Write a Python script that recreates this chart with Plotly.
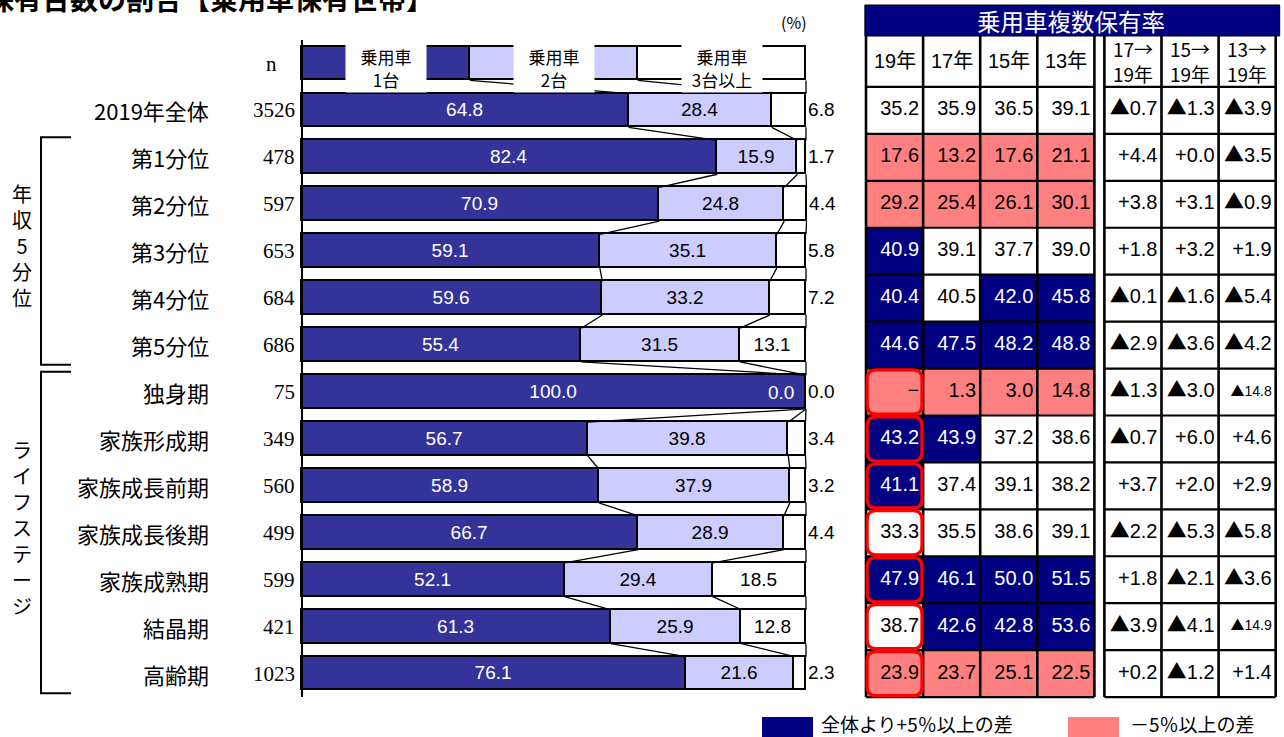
import plotly.graph_objects as go

# ---------------- data ----------------
categories = ["2019年全体", "第1分位", "第2分位", "第3分位", "第4分位", "第5分位",
              "独身期", "家族形成期", "家族成長前期", "家族成長後期", "家族成熟期", "結晶期", "高齢期"]
n_values = [3526, 478, 597, 653, 684, 686, 75, 349, 560, 499, 599, 421, 1023]
share_1 = [64.8, 82.4, 70.9, 59.1, 59.6, 55.4, 100.0, 56.7, 58.9, 66.7, 52.1, 61.3, 76.1]
share_2 = [28.4, 15.9, 24.8, 35.1, 33.2, 31.5, 0.0, 39.8, 37.9, 28.9, 29.4, 25.9, 21.6]
share_3 = [6.8, 1.7, 4.4, 5.8, 7.2, 13.1, 0.0, 3.4, 3.2, 4.4, 18.5, 12.8, 2.3]
series_names = ["乗用車<br>1台", "乗用車<br>2台", "乗用車<br>3台以上"]
key_share = [33.3, 33.3, 33.4]          # header key bar

income_group = categories[1:6]
life_group = categories[6:]

rate_years = ["19年", "17年", "15年", "13年"]
rate_19 = [35.2, 17.6, 29.2, 40.9, 40.4, 44.6, None, 43.2, 41.1, 33.3, 47.9, 38.7, 23.9]
rate_17 = [35.9, 13.2, 25.4, 39.1, 40.5, 47.5, 1.3, 43.9, 37.4, 35.5, 46.1, 42.6, 23.7]
rate_15 = [36.5, 17.6, 26.1, 37.7, 42.0, 48.2, 3.0, 37.2, 39.1, 38.6, 50.0, 42.8, 25.1]
rate_13 = [39.1, 21.1, 30.1, 39.0, 45.8, 48.8, 14.8, 38.6, 38.2, 39.1, 51.5, 53.6, 22.5]

change_labels = ["17→<br>19年", "15→<br>19年", "13→<br>19年"]
chg_17 = [-0.7, 4.4, 3.8, 1.8, -0.1, -2.9, -1.3, -0.7, 3.7, -2.2, 1.8, -3.9, 0.2]
chg_15 = [-1.3, 0.0, 3.1, 3.2, -1.6, -3.6, -3.0, 6.0, 2.0, -5.3, -2.1, -4.1, -1.2]
chg_13 = [-3.9, -3.5, -0.9, 1.9, -5.4, -4.2, -14.8, 4.6, 2.9, -5.8, -3.6, -14.9, 1.4]

table_title = "乗用車複数保有率"
legend_hi = "全体より+5％以上の差"
legend_lo = "－5％以上の差"
page_title = "乗用車保有台数の割合【乗用車保有世帯】"

# ---------------- style / geometry ----------------
W, H = 1284, 737
X0_PX, X100_PX = 302, 806
ROW0_PX, PITCH = 63.5, 46.93
T_LEFT_PX, COLW_PX = 866, 57.1
GAP = 0.175
BAR_W = 0.72

NAVY_BAR = "#333399"
LAV = "#CCCCFF"
NAVY = "#000080"
PINK = "#FF8080"
NUM = "Liberation Sans, Arial, Noto Sans CJK JP, sans-serif"
JP = "Noto Sans CJK JP, sans-serif"
SERIF = "Liberation Serif, DejaVu Serif, serif"

sc = (X100_PX - X0_PX) / 100.0
x_range = [(0 - X0_PX) / sc, (W - X0_PX) / sc]
y_range = [(H - ROW0_PX) / PITCH, (0 - ROW0_PX) / PITCH]
x2_range = [(0 - T_LEFT_PX) / COLW_PX, (W - T_LEFT_PX) / COLW_PX]


def py(px):
    return (px - ROW0_PX) / PITCH


rows = list(range(1, len(categories) + 1))
all_rows = [0] + rows

fig = go.Figure()

# ---------------- stacked bars ----------------
s1 = [key_share[0]] + share_1
s2 = [key_share[1]] + share_2
s3 = [key_share[2]] + share_3

t1 = [""] + [f"{v:.1f}" for v in share_1]
t2 = [""] + [f"{v:.1f}" if v > 0 else "" for v in share_2]
t3 = [""] + [f"{v:.1f}" for v in share_3]
pos3 = ["inside"] + ["inside" if v >= 10 else "outside" for v in share_3]

for vals, txt, col, tcol, pos in [
    (s1, t1, NAVY_BAR, "white", "inside"),
    (s2, t2, LAV, "black", "inside"),
    (s3, t3, "white", "black", pos3),
]:
    fig.add_trace(go.Bar(
        x=vals, y=all_rows, orientation="h", width=BAR_W,
        marker=dict(color=col, line=dict(color="black", width=1.8)),
        text=txt, textposition=pos, insidetextanchor="middle",
        textfont=dict(family=NUM, size=19, color=tcol),
        outsidetextfont=dict(family=NUM, size=19, color="black"),
        constraintext="none", cliponaxis=False, showlegend=False,
        hoverinfo="skip",
    ))

# series lines between consecutive bars
cx, cy = [], []
c1 = s1
c2 = [a + b for a, b in zip(s1, s2)]
c3 = [a + b + c for a, b, c in zip(s1, s2, s3)]
for cum in (c1, c2, c3):
    for i in range(len(all_rows) - 1):
        cx += [cum[i], cum[i + 1], None]
        cy += [all_rows[i] + BAR_W / 2, all_rows[i + 1] - BAR_W / 2, None]
fig.add_trace(go.Scatter(x=cx, y=cy, mode="lines", line=dict(color="black", width=1.3),
                         showlegend=False, hoverinfo="skip"))
# category axis line
fig.add_trace(go.Scatter(x=[0, 0], y=[-0.5, len(categories) + 0.5], mode="lines",
                         line=dict(color="black", width=2), showlegend=False, hoverinfo="skip"))

# ---------------- table 1 (rates) ----------------
PAD = 4 / COLW_PX
rate_cols = [rate_19, rate_17, rate_15, rate_13]
z, txt_w_x, txt_w_y, txt_w, txt_b_x, txt_b_y, txt_b = [], [], [], [], [], [], []
for r, k in enumerate(rows):
    zrow = []
    for j, col in enumerate(rate_cols):
        v = col[r]
        base = col[0]
        vv = 0.0 if v is None else v
        d = vv - base
        state = 1 if d >= 5 - 1e-9 else (2 if d <= -5 + 1e-9 else 0)
        zrow.append(state)
        s = "−" if v is None else f"{v:.1f}"
        if state == 1:
            txt_w_x.append(j + 1 - PAD); txt_w_y.append(k); txt_w.append(s)
        else:
            txt_b_x.append(j + 1 - PAD); txt_b_y.append(k); txt_b.append(s)
    z.append(zrow)

fig.add_trace(go.Heatmap(
    z=z, x=[j + 0.5 for j in range(4)], y=rows, xaxis="x2", yaxis="y",
    zmin=0, zmax=2, showscale=False, hoverinfo="skip",
    colorscale=[[0, "white"], [0.33, "white"], [0.33, NAVY], [0.67, NAVY],
                [0.67, PINK], [1, PINK]],
))
for xs, ys, ts, c in [(txt_w_x, txt_w_y, txt_w, "white"), (txt_b_x, txt_b_y, txt_b, "black")]:
    fig.add_trace(go.Scatter(x=xs, y=ys, text=ts, mode="text", textposition="middle left",
                             xaxis="x2", yaxis="y",
                             textfont=dict(family=NUM, size=20, color=c),
                             showlegend=False, hoverinfo="skip", cliponaxis=False))

# ---------------- table 2 (changes) ----------------
TRI = '<span style="font-family:Noto Sans CJK JP">▲</span>'


def fmt_chg(v):
    s = f"{abs(v):.1f}"
    return (TRI + s) if v < 0 else ("+" + s)


cx2, cy2, ct2, cs2 = [], [], [], []
for j, col in enumerate([chg_17, chg_15, chg_13]):
    for r, k in enumerate(rows):
        cx2.append(4 + GAP + j + 1 - PAD)
        cy2.append(k)
        ct2.append(fmt_chg(col[r]))
        cs2.append(14 if abs(col[r]) >= 10 else 20)
fig.add_trace(go.Scatter(x=cx2, y=cy2, text=ct2, mode="text", textposition="middle left",
                         xaxis="x2", yaxis="y",
                         textfont=dict(family=NUM, size=cs2, color="black"),
                         showlegend=False, hoverinfo="skip", cliponaxis=False))

# ---------------- shapes ----------------
shapes = []
head_top = py(36)
last = len(categories) + 0.5
t2_left = 4 + GAP
t2_right = t2_left + 3

# title bar
shapes.append(dict(type="rect", xref="x2", yref="y", x0=-0.02, x1=t2_right + 0.07,
                   y0=py(5), y1=head_top, fillcolor=NAVY, line=dict(color="black", width=1), layer="above"))
# grid lines
for left, ncol in [(0, 4), (t2_left, 3)]:
    for j in range(ncol + 1):
        shapes.append(dict(type="line", xref="x2", yref="y", x0=left + j, x1=left + j,
                           y0=head_top, y1=last, line=dict(color="black", width=2.6), layer="above"))
    for k in [0] + rows:
        shapes.append(dict(type="line", xref="x2", yref="y", x0=left, x1=left + ncol,
                           y0=k + 0.5, y1=k + 0.5, line=dict(color="black", width=2.2), layer="above"))


# red highlight boxes (life stage rows, 19年 column)
def rrect(x0, x1, y0, y1, rx, ry):
    return (f"M {x0+rx},{y0} L {x1-rx},{y0} Q {x1},{y0} {x1},{y0+ry} L {x1},{y1-ry} "
            f"Q {x1},{y1} {x1-rx},{y1} L {x0+rx},{y1} Q {x0},{y1} {x0},{y1-ry} "
            f"L {x0},{y0+ry} Q {x0},{y0} {x0+rx},{y0} Z")


rx, ry = 9 / COLW_PX, 9 / PITCH
for name in life_group:
    k = categories.index(name) + 1
    shapes.append(dict(type="path", xref="x2", yref="y",
                       path=rrect(0.02, 0.98, k - 0.47, k + 0.47, rx, ry),
                       line=dict(color="#FF0000", width=3.2), layer="above"))

# group brackets
for grp in (income_group, life_group):
    k0 = categories.index(grp[0]) + 1 - 0.43
    k1 = categories.index(grp[-1]) + 1 + 0.42
    xa, xb = 41 / W, 71 / W
    shapes.append(dict(type="path", xref="paper", yref="y",
                       path=f"M {xb},{k0} L {xa},{k0} L {xa},{k1} L {xb},{k1}",
                       line=dict(color="black", width=2)))

# bottom legend swatches
shapes.append(dict(type="rect", xref="paper", yref="paper", x0=762 / W, x1=813 / W,
                   y0=0, y1=20 / H, fillcolor=NAVY, line=dict(width=0)))
shapes.append(dict(type="rect", xref="paper", yref="paper", x0=1068 / W, x1=1119 / W,
                   y0=0, y1=20 / H, fillcolor=PINK, line=dict(width=0)))

# ---------------- annotations ----------------
ann = []
for name, n in zip(categories, n_values):
    k = categories.index(name) + 1
    ann.append(dict(x=211 / W, xref="paper", y=k, yref="y", text=name, showarrow=False,
                    xanchor="right", yanchor="middle", font=dict(family=JP, size=22, color="black")))
    ann.append(dict(x=297 / W, xref="paper", y=k, yref="y", text=str(n), showarrow=False,
                    xanchor="right", yanchor="middle", font=dict(family=SERIF, size=21, color="black")))
ann.append(dict(x=271 / W, xref="paper", y=0, yref="y", text="n", showarrow=False,
                xanchor="center", yanchor="middle", font=dict(family=SERIF, size=21, color="black")))
# key labels
acc = 0
for name, v in zip(series_names, key_share):
    ann.append(dict(x=acc + v / 2, xref="x", y=0, yref="y", yshift=-4, text=name, showarrow=False,
                    xanchor="center", yanchor="middle",
                    bgcolor="white", width=78, height=46,
                    font=dict(family=JP, size=17, color="black")))
    acc += v
# zero label for 2台 of 独身期
for name, v1, v2 in zip(categories, share_1, share_2):
    if v2 == 0:
        k = categories.index(name) + 1
        ann.append(dict(x=v1 + v2, xref="x", y=k, yref="y", xanchor="right", yanchor="middle", xshift=-10,
                        text=f"{v2:.1f}", showarrow=False,
                        font=dict(family=NUM, size=19, color="white")))
ann.append(dict(x=100, xref="x", y=py(22), yref="y", xanchor="right", yanchor="middle", xshift=3, text="(%)",
                showarrow=False, font=dict(family=JP, size=16, color="black")))
# bracket group labels
for grp, lab in [(income_group, "年<br>収<br>5<br>分<br>位"), (life_group, "ラ<br>イ<br>フ<br>ス<br>テ<br>ー<br>ジ")]:
    kc = (categories.index(grp[0]) + categories.index(grp[-1])) / 2 + 1 - 0.12
    ann.append(dict(x=22 / W, xref="paper", y=kc, yref="y", text=lab, showarrow=False,
                    xanchor="center", yanchor="middle",
                    font=dict(family=JP, size=20, color="black")))
# table headers
hy = (head_top + 0.5) / 2
for j, lab in enumerate(rate_years):
    ann.append(dict(x=j + 0.5, xref="x2", y=hy, yref="y", text=lab, showarrow=False,
                    xanchor="center", yanchor="middle",
                    font=dict(family=NUM, size=20, color="black")))
for j, lab in enumerate(change_labels):
    ann.append(dict(x=t2_left + j + 0.5, xref="x2", y=hy, yref="y", text=lab, showarrow=False,
                    xanchor="center", yanchor="middle",
                    font=dict(family=JP, size=19, color="black")))
ann.append(dict(x=(t2_right) / 2, xref="x2", y=(py(5) + head_top) / 2, yref="y", text=table_title,
                xanchor="center", yanchor="middle",
                showarrow=False, font=dict(family=JP, size=23.5, color="white")))
# bottom legend text
ann.append(dict(x=819 / W, xref="paper", y=14 / H, yref="paper", xanchor="left", yanchor="middle",
                text=legend_hi, showarrow=False, font=dict(family=JP, size=19, color="black")))
ann.append(dict(x=1128 / W, xref="paper", y=14 / H, yref="paper", xanchor="left", yanchor="middle",
                text=legend_lo, showarrow=False, font=dict(family=JP, size=19, color="black")))
# page title (cut at top, as in the source)
ann.append(dict(x=436 / W, xref="paper", y=(H + 2) / H, yref="paper", xanchor="right", yanchor="middle",
                text=f"<b>{page_title}</b>", showarrow=False,
                font=dict(family=JP, size=28, color="black")))

fig.update_layout(
    width=W, height=H, margin=dict(l=0, r=0, t=0, b=0),
    paper_bgcolor="white", plot_bgcolor="white",
    barmode="stack", bargap=0,
    xaxis=dict(range=x_range, domain=[0, 1], visible=False, fixedrange=True),
    xaxis2=dict(range=x2_range, domain=[0, 1], overlaying="x", anchor="y", visible=False),
    yaxis=dict(range=y_range, domain=[0, 1], visible=False),
    shapes=shapes, annotations=ann, showlegend=False,
)
fig.write_html("out.html", config={"displayModeBar": False},
               post_script="document.body.style.margin='0';document.body.style.overflow='hidden';")
